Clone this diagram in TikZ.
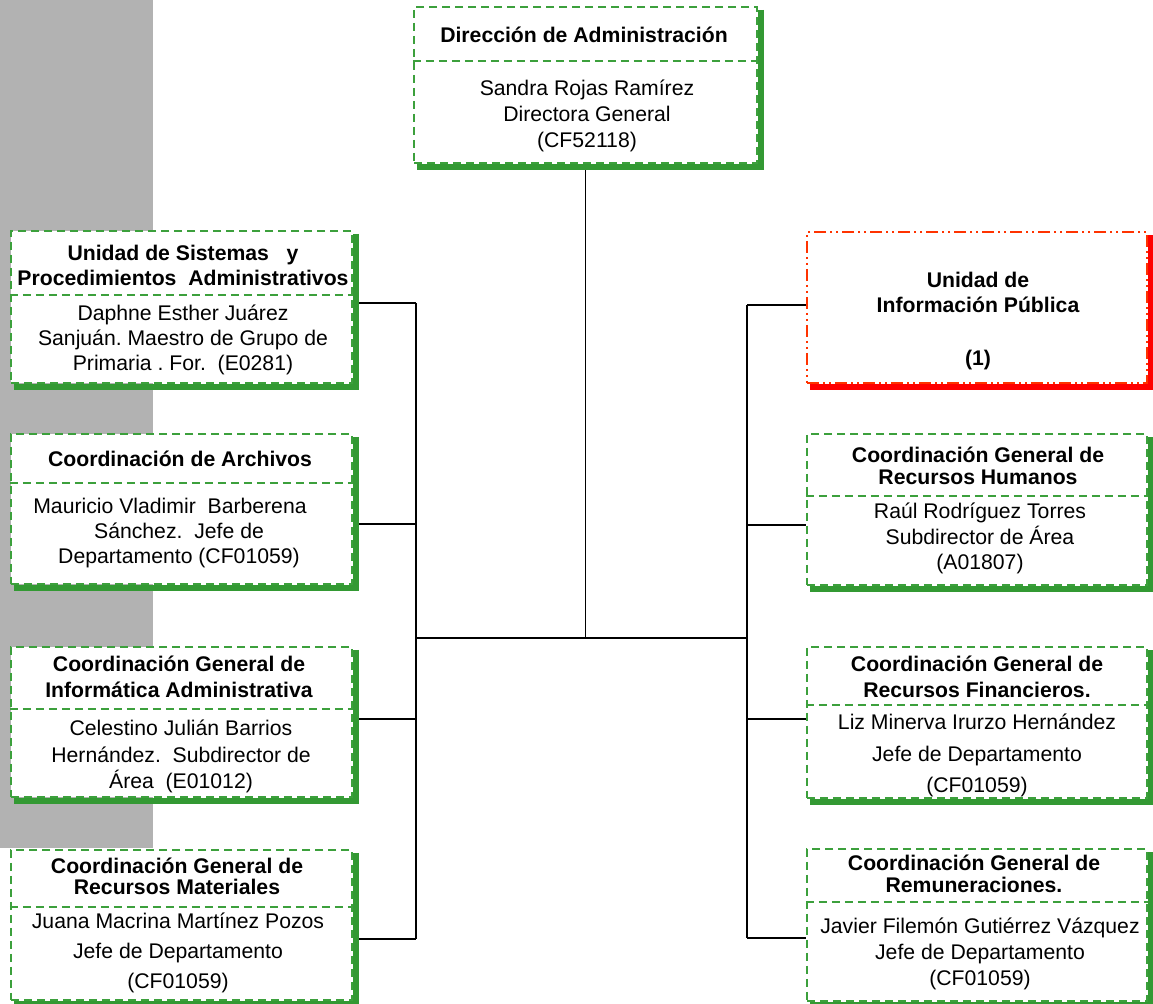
\documentclass[tikz,border=0pt]{standalone}
\usepackage{fontspec}
\setmainfont{Liberation Sans}
\usetikzlibrary{fit}
\definecolor{gbord}{RGB}{60,160,60}
\definecolor{gshad}{RGB}{51,153,51}
\definecolor{rbord}{RGB}{255,51,0}
\definecolor{rshad}{RGB}{255,0,0}
\definecolor{bggray}{RGB}{178,178,178}
\newcommand\dropshadow[2]{\draw[#2] ([shift={(1.4pt,-2pt)}]#1.north east) -- ([shift={(1.4pt,-1.4pt)}]#1.south east) -- ([shift={(2pt,-1.4pt)}]#1.south west);}
\tikzset{
  gbox/.style={draw=gbord, line width=1.2pt, dash pattern=on 4pt off 2.5pt, fill=white, inner sep=0pt},
  rbox/.style={draw=rbord, line width=1.2pt, dash pattern=on 6pt off 2pt on 1pt off 2pt on 1pt off 2pt, fill=white, inner sep=0pt},
  gshadow/.style={draw=gshad, line width=2.6pt},
  rshadow/.style={draw=rshad, line width=2.6pt},
  divider/.style={draw=gbord, line width=1.2pt, dash pattern=on 4pt off 2.5pt},
  link/.style={draw=black, line width=0.9pt},
  ttl/.style={font=\frenchspacing\bfseries\fontsize{10.6}{#1}\selectfont, align=center, inner sep=0pt},
  ttl/.default=12.5,
  bdy/.style={font=\frenchspacing\fontsize{10.6}{#1}\selectfont, align=center, inner sep=0pt},
  bdy/.default=12.5
}
\begin{document}
\begin{tikzpicture}[x=0.5pt,y=-0.5pt]
\useasboundingbox (0,0) rectangle (1153,1004);
\fill[bggray] (0,0) rectangle (153,848);

% junction coordinates
\coordinate (L1) at (416,303);
\coordinate (L2) at (416,524);
\coordinate (L3) at (416,719);
\coordinate (L4) at (416,939);
\coordinate (R1) at (747,305);
\coordinate (R2) at (747,525);
\coordinate (R3) at (747,719);
\coordinate (R4) at (747,938);
\coordinate (LM) at (416,638);
\coordinate (RM) at (747,638);

% boxes
\node[gbox, fit={(414,7) (757,163)}] (top) {};
\node[gbox, fit={(11,231) (352,383)}] (b1) {};
\node[gbox, fit={(11,434) (352,584)}] (b2) {};
\node[gbox, fit={(11,647) (352,797)}] (b3) {};
\node[gbox, fit={(11,850) (352,1000)}] (b4) {};
\node[rbox, fit={(807,232) (1147,383)}] (r1) {};
\node[gbox, fit={(807,434) (1147,585)}] (r2) {};
\node[gbox, fit={(807,647) (1147,798)}] (r3) {};
\node[gbox, fit={(807,849) (1147,1001)}] (r4) {};

% connectors
\draw[link] (top.south) -- (top.south |- LM);
\draw[link] (LM) -- (RM);
\draw[link] (L1) -- (L4);
\draw[link] (R1) -- (R4);
\draw[link] (b1.east |- L1) -- (L1);
\draw[link] (b2.east |- L2) -- (L2);
\draw[link] (b3.east |- L3) -- (L3);
\draw[link] (b4.east |- L4) -- (L4);
\draw[link] (R1) -- (r1.west |- R1);
\draw[link] (R2) -- (r2.west |- R2);
\draw[link] (R3) -- (r3.west |- R3);
\draw[link] (R4) -- (r4.west |- R4);

% shadows
\dropshadow{top}{gshadow}
\dropshadow{b1}{gshadow}
\dropshadow{b2}{gshadow}
\dropshadow{b3}{gshadow}
\dropshadow{b4}{gshadow}
\dropshadow{r1}{rshadow}
\dropshadow{r2}{gshadow}
\dropshadow{r3}{gshadow}
\dropshadow{r4}{gshadow}

% dividers
\draw[divider] (top.west |- 0,61) -- (top.east |- 0,61);
\draw[divider] (b1.west |- 0,295) -- (b1.east |- 0,295);
\draw[divider] (b2.west |- 0,483) -- (b2.east |- 0,483);
\draw[divider] (b3.west |- 0,709) -- (b3.east |- 0,709);
\draw[divider] (b4.west |- 0,907) -- (b4.east |- 0,907);
\draw[divider] (r2.west |- 0,496) -- (r2.east |- 0,496);
\draw[divider] (r3.west |- 0,705) -- (r3.east |- 0,705);
\draw[divider] (r4.west |- 0,902) -- (r4.east |- 0,902);

% texts
\node[ttl] (topT) at (584,35) {Dirección de Administración};
\node[bdy=13] (topB) at (587,116) {Sandra Rojas Ramírez\\ Directora General\\ (CF52118)};

\node[ttl=12.5] (b1T) at (183,265.5) {Unidad de Sistemas\ \ \ y\\ Procedimientos\ \ Administrativos};
\node[bdy=12.5] (b1B) at (183,340) {Daphne Esther Juárez\\ Sanjuán. Maestro de Grupo de\\ Primaria . For.\ \ (E0281)};

\node[ttl] (b2T) at (180,459) {Coordinación de Archivos};
\node[bdy=12.5] (b2B) at (179,533) {Mauricio Vladimir\ \ Barberena\hspace*{9pt}\\ Sánchez.\ \ Jefe de\\ Departamento (CF01059)};

\node[ttl=13] (b3T) at (179,677) {Coordinación General de\\ Informática Administrativa};
\node[bdy=13.25] (b3B) at (181,756.5) {Celestino Julián Barrios\\ Hernández.\ \ Subdirector de\\ Área\ \ (E01012)};

\node[ttl=10.5] (b4T) at (177,876.5) {Coordinación General de\\ Recursos Materiales};
\node[bdy=15] (b4B) at (178,953) {Juana Macrina Martínez Pozos\\ Jefe de Departamento\\ (CF01059)};

\node[ttl=12.75] (r1T) at (978,321) {Unidad de\\ Información Pública\\[13.5pt] (1)};

\node[ttl=11] (r2T) at (978,466) {Coordinación General de\\ Recursos Humanos};
\node[bdy=12.75] (r2B) at (980,538.5) {Raúl Rodríguez Torres\\ Subdirector de Área\\ (A01807)};

\node[ttl=13] (r3T) at (977,677) {Coordinación General de\\ Recursos Financieros.};
\node[bdy=15.75] (r3B) at (977,755.5) {Liz Minerva Irurzo Hernández\\ Jefe de Departamento\\ (CF01059)};

\node[ttl=11] (r4T) at (974,874) {Coordinación General de\\ Remuneraciones.};
\node[bdy=13] (r4B) at (980,954) {Javier Filemón Gutiérrez Vázquez\\ Jefe de Departamento\\ (CF01059)};
\end{tikzpicture}
\end{document}
